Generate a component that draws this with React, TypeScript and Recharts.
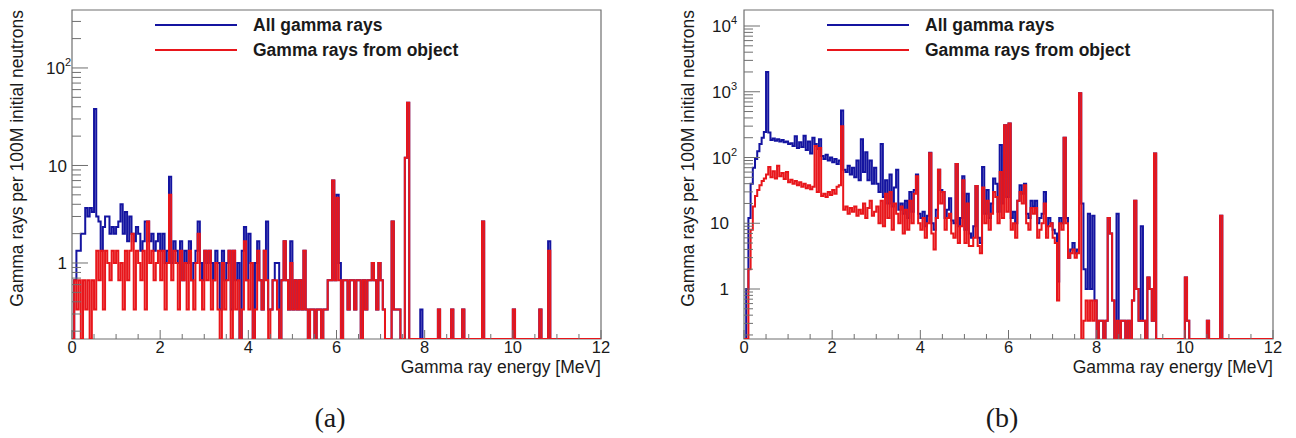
import React from "react";
import { LineChart, Line, XAxis, YAxis, ReferenceArea, Legend } from "recharts";

// histogram binning shared by both panels
const BIN_WIDTH = 0.05; // MeV
const N_BINS = 240; // 0 - 12 MeV

// panel (a): entries per bin, one entry = 1/3 gamma per 100M neutrons
const ENTRY_A = 1 / 3;

// prettier-ignore
const BLUE_A = [
  0, 2, 4, 4, 6, 6, 11, 9, 11, 10, 114, 9, 8, 4, 7, 9, 9, 6, 7, 6,
  7, 8, 12, 6, 10, 5, 9, 6, 5, 7, 6, 4, 5, 8, 8, 5, 6, 4, 5, 6,
  4, 6, 3, 4, 23, 3, 5, 4, 3, 5, 2, 4, 3, 5, 2, 3, 4, 8, 3, 2,
  4, 3, 4, 3, 2, 4, 3, 1, 4, 2, 3, 4, 1, 4, 2, 3, 0, 4, 7, 2,
  6, 3, 0, 3, 5, 2, 1, 4, 8, 1, 1, 2, 3, 3, 0, 2, 5, 2, 1, 5,
  1, 2, 1, 2, 1, 4, 1, 0, 1, 1, 0, 1, 1, 0, 1, 1, 2, 2, 21, 2,
  15, 3, 0, 2, 2, 1, 2, 2, 1, 2, 2, 0, 2, 1, 2, 2, 3, 2, 1, 3,
  2, 1, 0, 0, 0, 8, 1, 1, 1, 0, 0, 36, 132, 0, 0, 0, 0, 0, 1, 0,
  0, 0, 0, 0, 0, 0, 1, 0, 0, 0, 0, 0, 1, 0, 0, 0, 0, 1, 0, 0,
  0, 0, 0, 0, 0, 0, 8, 0, 0, 0, 0, 0, 0, 0, 0, 0, 0, 0, 0, 0,
  1, 0, 0, 0, 0, 0, 0, 0, 0, 0, 0, 0, 1, 0, 0, 0, 5,
];

// prettier-ignore
const RED_A = [
  0, 2, 1, 2, 0, 2, 1, 2, 0, 2, 1, 4, 2, 4, 1, 4, 3, 2, 4, 3,
  4, 2, 3, 1, 4, 2, 4, 6, 1, 4, 3, 2, 4, 1, 8, 3, 4, 2, 3, 4,
  2, 4, 1, 3, 15, 2, 4, 3, 1, 4, 2, 3, 1, 4, 2, 1, 3, 6, 2, 1,
  4, 2, 4, 1, 2, 3, 1, 0, 3, 1, 2, 4, 0, 4, 1, 2, 0, 1, 5, 2,
  1, 3, 0, 1, 4, 2, 1, 4, 2, 0, 1, 2, 2, 1, 0, 2, 5, 2, 1, 3,
  1, 2, 1, 2, 1, 4, 1, 0, 1, 1, 0, 1, 1, 0, 1, 1, 2, 2, 21, 2,
  14, 2, 0, 2, 2, 1, 2, 2, 1, 2, 2, 0, 2, 1, 2, 2, 3, 2, 1, 3,
  2, 1, 0, 0, 0, 8, 1, 1, 1, 0, 0, 36, 132, 0, 0, 0, 0, 0, 0, 0,
  0, 0, 0, 0, 0, 0, 1, 0, 0, 0, 0, 0, 1, 0, 0, 0, 0, 1, 0, 0,
  0, 0, 0, 0, 0, 0, 8, 0, 0, 0, 0, 0, 0, 0, 0, 0, 0, 0, 0, 0,
  1, 0, 0, 0, 0, 0, 0, 0, 0, 0, 0, 0, 1, 0, 0, 0, 4,
];

// panel (b): gamma rays per 100M initial neutrons per bin
// prettier-ignore
const BLUE_B = [
  0, 1, 12, 40, 70, 95, 125, 160, 200, 245, 2000, 240, 185, 195, 180, 190, 175, 185, 170, 175,
  160, 165, 150, 210, 140, 170, 145, 215, 130, 175, 115, 200, 160, 135, 190, 105, 95, 110, 90, 100,
  85, 95, 80, 90, 520, 65, 60, 75, 55, 70, 50, 90, 45, 190, 60, 120, 45, 90, 40, 70,
  40, 30, 160, 25, 45, 20, 55, 18, 35, 65, 16, 20, 14, 22, 12, 30, 15, 32, 55, 14,
  12, 15, 9, 13, 118, 10, 8, 16, 65, 32, 30, 12, 16, 24, 11, 10, 80, 9, 12, 52,
  8, 28, 7, 6, 9, 37, 6, 5, 72, 14, 32, 12, 20, 48, 40, 15, 155, 20, 310, 25,
  330, 12, 15, 10, 22, 38, 28, 40, 14, 12, 22, 18, 22, 10, 12, 14, 30, 9, 12, 10,
  8, 7, 1.3, 12, 10, 200, 12, 3, 4, 5, 3.5, 4, 950, 20, 2, 1, 14, 1, 13, 0.67,
  0, 0.33, 0.33, 0, 0.33, 12, 7, 0.67, 0, 14, 0, 0.33, 0.33, 0, 0.33, 0, 0.67, 22, 1, 0.33,
  9, 0.33, 0, 1.5, 1, 0.33, 115, 0, 0, 0, 0, 0, 0, 0, 0, 0, 0, 0, 0, 0,
  1.5, 0.33, 0, 0, 0, 0, 0, 0, 0, 0, 0.33, 0, 0, 0, 0, 0, 13,
];

// prettier-ignore
const RED_B = [
  0, 0, 2, 8, 18, 26, 32, 38, 44, 48, 55, 72, 50, 62, 48, 75, 52, 58, 47, 60,
  42, 46, 40, 44, 38, 42, 36, 40, 34, 38, 33, 36, 150, 30, 140, 26, 28, 25, 30, 27,
  32, 28, 36, 38, 300, 16, 18, 14, 17, 15, 18, 13, 16, 14, 20, 12, 17, 22, 13, 15,
  18, 10, 22, 9, 28, 12, 30, 8, 20, 14, 10, 18, 7, 16, 8, 22, 10, 28, 52, 10,
  8, 12, 6, 10, 116, 7, 4, 12, 65, 20, 30, 8, 12, 14, 7, 6, 80, 5, 9, 45,
  5, 20, 4.5, 4.5, 6, 37, 4.5, 3.5, 35, 10, 22, 8, 14, 30, 25, 10, 60, 12, 310, 15,
  330, 8, 10, 6, 22, 30, 20, 38, 10, 8, 17, 14, 17, 6, 8, 10, 20, 6, 9, 10,
  6, 5, 0.67, 10, 8, 200, 10, 3, 3.5, 4, 3, 3.5, 950, 0, 0.33, 0.67, 0.33, 0.67, 0.33, 0.67,
  0, 0.33, 0.33, 0, 0.33, 12, 7, 0.67, 0, 0.33, 0, 0.33, 0.33, 0, 0.33, 0, 0.67, 22, 1, 0.33,
  0.33, 0.33, 0, 1.5, 1, 0.33, 115, 0, 0, 0, 0, 0, 0, 0, 0, 0, 0, 0, 0, 0,
  1.5, 0.33, 0, 0, 0, 0, 0, 0, 0, 0, 0.33, 0, 0, 0, 0, 0, 13,
];

const SERIES_NAMES = ["All gamma rays", "Gamma rays from object"];
const X_TICKS = [0, 0.5, 1, 1.5, 2, 2.5, 3, 3.5, 4, 4.5, 5, 5.5, 6, 6.5, 7, 7.5, 8, 8.5, 9, 9.5, 10, 10.5, 11, 11.5, 12];
const X_LABELS = [0, 2, 4, 6, 8, 10, 12];
const X_TITLE = "Gamma ray energy [MeV]";
const Y_TITLE = "Gamma rays per 100M initial neutrons";
const CAPTIONS = ["(a)", "(b)"];

const BLUE = "#1414a0";
const RED = "#e8161b";
const AXIS = "#6f6f6f";
const INK = "#1a1a1a";
const SANS = '"Liberation Sans", Arial, Helvetica, sans-serif';

function buildRows(blue: number[], red: number[], unit: number, floor: number) {
  const rows = [];
  for (let i = 0; i <= N_BINS; i++) {
    const k = Math.min(i, N_BINS - 1);
    const b = (blue[k] ?? 0) * unit;
    const r = (red[k] ?? 0) * unit;
    rows.push({
      e: Math.round(i * BIN_WIDTH * 100) / 100,
      blue: Math.max(b, floor),
      red: Math.max(r, floor),
    });
  }
  return rows;
}

function logTicks(min: number, max: number) {
  const out: number[] = [];
  for (let p = Math.floor(Math.log10(min)); p <= Math.ceil(Math.log10(max)); p++) {
    for (let m = 1; m <= 9; m++) {
      const v = Number((m * Math.pow(10, p)).toPrecision(6));
      if (v >= min && v <= max) out.push(v);
    }
  }
  return out;
}

const XTick = (props: any) => {
  const { x, y, payload } = props;
  const major = X_LABELS.includes(payload.value);
  return (
    <g>
      <line x1={x} x2={x} y1={y} y2={y - (major ? 9 : 5)} stroke={AXIS} strokeWidth={1} />
      {major && (
        <text x={x} y={y + 14} textAnchor="middle" fontSize={16.5} fontFamily={SANS} fill={INK}>
          {payload.value}
        </text>
      )}
    </g>
  );
};

const makeYTick = (plainGap: number, supGap: number) => (props: any) => {
  const { x, y, payload } = props;
  const lg = Math.log10(payload.value);
  const exp = Math.round(lg);
  const major = Math.abs(lg - exp) < 1e-6;
  return (
    <g>
      <line x1={x} x2={x + (major ? 16 : 9)} y1={y} y2={y} stroke={AXIS} strokeWidth={1} />
      {major && exp <= 1 && (
        <text x={x - plainGap} y={y} dy="0.36em" textAnchor="end" fontSize={17} fontFamily={SANS} fill={INK}>
          {exp === 0 ? "1" : "10"}
        </text>
      )}
      {major && exp > 1 && (
        <text x={x - supGap} y={y} dy="0.36em" textAnchor="end" fontSize={17} fontFamily={SANS} fill={INK}>
          10
          <tspan fontSize={11} dy={-8}>
            {exp}
          </tspan>
        </text>
      )}
    </g>
  );
};

const LegendBox = (props: any) => (
  <svg width={380} height={50} style={{ overflow: "visible" }}>
    {(props.payload || []).map((p: any, i: number) => (
      <g key={p.value}>
        <line x1={0} x2={82} y1={10 + i * 25} y2={10 + i * 25} stroke={p.color} strokeWidth={2} />
        <text x={98} y={10 + i * 25} dy="0.36em" fontSize={17.5} fontWeight="bold" fontFamily={SANS} fill={INK}>
          {p.value}
        </text>
      </g>
    ))}
  </svg>
);

interface PanelProps {
  blue: number[];
  red: number[];
  unit: number;
  yMin: number;
  yMax: number;
  axisWidth: number;
  rightMargin: number;
  legendLeft: number;
  yTitleX: number;
  plainGap: number;
  supGap: number;
}

function Panel(p: PanelProps) {
  const rows = buildRows(p.blue, p.red, p.unit, p.yMin);
  const plotRight = 648 - p.rightMargin;
  return (
    <LineChart width={648} height={438} data={rows} margin={{ top: 10, right: p.rightMargin, bottom: 59, left: 0 }}>
      <XAxis
        type="number"
        dataKey="e"
        domain={[0, 12]}
        ticks={X_TICKS}
        interval={0}
        height={40}
        tickSize={0}
        tickMargin={0}
        axisLine={false}
        tickLine={false}
        tick={XTick}
        allowDataOverflow
        label={{
          content: () => (
            <text x={plotRight} y={373} textAnchor="end" fontSize={17.5} fontFamily={SANS} fill={INK}>
              {X_TITLE}
            </text>
          ),
        }}
      />
      <YAxis
        type="number"
        scale="log"
        domain={[p.yMin, p.yMax]}
        allowDataOverflow
        ticks={logTicks(p.yMin, p.yMax)}
        interval={0}
        width={p.axisWidth}
        tickSize={0}
        tickMargin={0}
        axisLine={false}
        tickLine={false}
        tick={makeYTick(p.plainGap, p.supGap)}
        label={{
          content: () => (
            <text
              x={p.yTitleX}
              y={10}
              transform={`rotate(-90 ${p.yTitleX} 10)`}
              textAnchor="end"
              fontSize={17.5}
              fontFamily={SANS}
              fill={INK}
            >
              {Y_TITLE}
            </text>
          ),
        }}
      />
      <Line
        type="stepAfter"
        dataKey="blue"
        name={SERIES_NAMES[0]}
        stroke={BLUE}
        strokeWidth={2}
        dot={false}
        activeDot={false}
        isAnimationActive={false}
      />
      <Line
        type="stepAfter"
        dataKey="red"
        name={SERIES_NAMES[1]}
        stroke={RED}
        strokeWidth={2}
        dot={false}
        activeDot={false}
        isAnimationActive={false}
      />
      <ReferenceArea x1={0} x2={12} y1={p.yMin} y2={p.yMax} fill="none" stroke={AXIS} strokeWidth={1.2} />
      <Legend
        content={LegendBox}
        layout="horizontal"
        verticalAlign="middle"
        align="center"
        wrapperStyle={{ left: p.legendLeft, top: 15, width: 380, height: 50 }}
      />
    </LineChart>
  );
}

export default function App() {
  return (
    <div style={{ position: "absolute", left: 0, top: 0, width: 1296, height: 438, background: "#fff" }}>
      <div style={{ position: "absolute", left: 0, top: 0 }}>
        <Panel
          blue={BLUE_A}
          red={RED_A}
          unit={ENTRY_A}
          yMin={0.1662}
          yMax={393}
          axisWidth={72}
          rightMargin={47}
          legendLeft={155}
          yTitleX={23}
          plainGap={5}
          supGap={1}
        />
      </div>
      <div style={{ position: "absolute", left: 648, top: 0 }}>
        <Panel
          blue={BLUE_B}
          red={RED_B}
          unit={1}
          yMin={0.1736}
          yMax={17520}
          axisWidth={96}
          rightMargin={23}
          legendLeft={179}
          yTitleX={46}
          plainGap={15}
          supGap={7}
        />
      </div>
      {CAPTIONS.map((c, i) => (
        <div
          key={c}
          style={{
            position: "absolute",
            left: i === 0 ? 290 : 962,
            width: 80,
            top: 403,
            lineHeight: "30px",
            textAlign: "center",
            fontSize: 28,
            fontFamily: '"Liberation Serif", "DejaVu Serif", serif',
            color: INK,
          }}
        >
          {c}
        </div>
      ))}
    </div>
  );
}
